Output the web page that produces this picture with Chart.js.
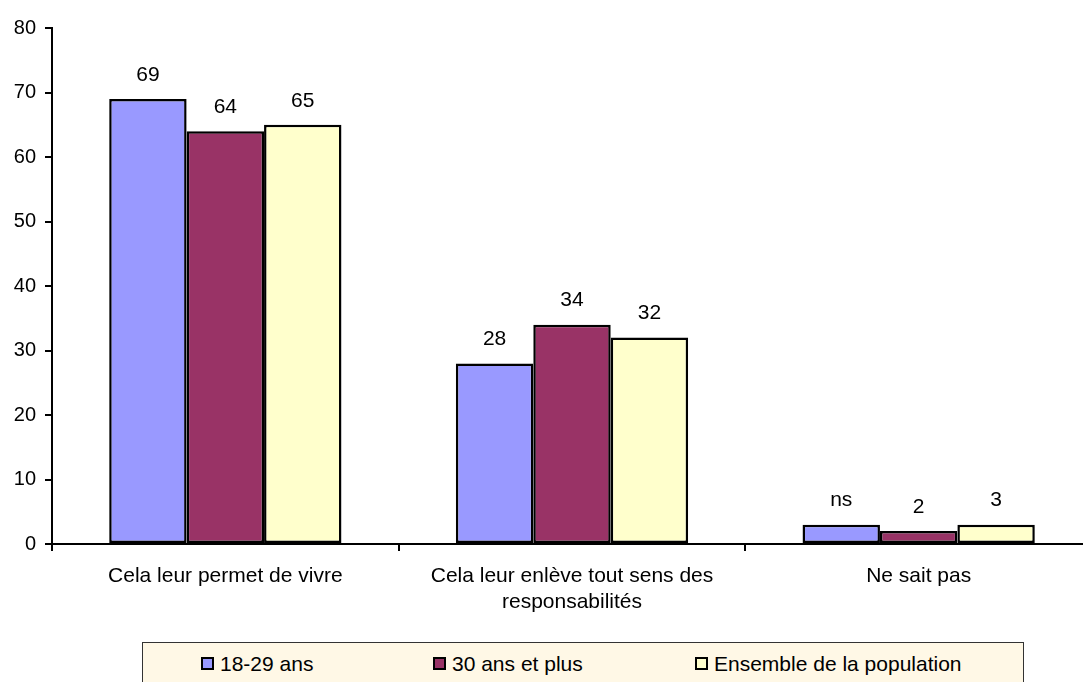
<!DOCTYPE html>
<html>
<head>
<meta charset="utf-8">
<script src="https://cdn.jsdelivr.net/npm/chart.js@4"></script>
<style>
html,body{margin:0;padding:0;background:#fff;overflow:hidden;}
#wrap{position:relative;width:1092px;height:682px;}
#legend{position:absolute;left:142px;top:642px;width:880px;height:48px;border:1px solid #333;background:#FFF8E6;font-family:"Liberation Sans",Arial,sans-serif;font-size:21px;color:#000;}
#legend span.item{position:absolute;top:9px;white-space:nowrap;}
#legend i{display:inline-block;width:9px;height:9px;border:2px solid #000;margin-right:6px;vertical-align:1px;}
</style>
</head>
<body>
<div id="wrap">
<canvas id="chart" width="1092" height="682"></canvas>
<div id="legend"></div>
</div>
<script>
const categories=[
"Cela leur permet de vivre",
["Cela leur enlève tout sens des","responsabilités"],
"Ne sait pas"
];

const seriesNames=["18-29 ans","30 ans et plus","Ensemble de la population"];

const jeunes=[69,28,3];
const plus30=[64,34,2];
const ensemble=[65,32,3];

const jeunesLabels=["69","28","ns"];
const plus30Labels=["64","34","2"];
const ensembleLabels=["65","32","3"];

const colors=["#9999FF","#993366","#FFFFCC"];

const yTicks=[0,10,20,30,40,50,60,70,80];

const valueLabels=[jeunesLabels,plus30Labels,ensembleLabels];

const font='"Liberation Sans", Arial, sans-serif';

// etiquettes au-dessus des barres
const barLabels={
id:"barLabels",
afterDatasetsDraw(c){
const ctx=c.ctx;
ctx.save();
ctx.font="21px "+font;
ctx.fillStyle="#000";
ctx.textAlign="center";
ctx.textBaseline="middle";
c.data.datasets.forEach((ds,i)=>{
c.getDatasetMeta(i).data.forEach((bar,j)=>{
ctx.fillText(valueLabels[i][j],bar.x,bar.y-24);
});
});
ctx.restore();
}
};

new Chart(document.getElementById("chart"),{
type:"bar",
data:{
labels:categories,
datasets:[jeunes,plus30,ensemble].map((d,i)=>({
label:seriesNames[i],
data:d,
backgroundColor:colors[i],
borderColor:"#000",
borderWidth:2.5,
borderSkipped:false,
categoryPercentage:0.67,
barPercentage:1
}))
},
options:{
responsive:false,
animation:false,
layout:{padding:{top:28,right:0,left:0,bottom:0}},
plugins:{legend:{display:false},tooltip:{enabled:false}},
scales:{
x:{
offset:true,
grid:{display:true,offset:true,drawOnChartArea:false,drawTicks:true,tickLength:7,color:"#000",lineWidth:2},
border:{display:true,color:"#000",width:2},
ticks:{color:"#000",font:{family:font,size:21,lineHeight:1.25},padding:12,maxRotation:0,autoSkip:false},
afterFit(s){s.height=138;}
},
y:{
min:0,max:80,
afterBuildTicks(s){s.ticks=yTicks.map(v=>({value:v}));},
grid:{display:true,drawOnChartArea:false,drawTicks:true,tickLength:7,color:"#000",lineWidth:2},
border:{display:true,color:"#000",width:2},
ticks:{color:"#000",font:{family:font,size:20},padding:9},
afterFit(s){s.width=52;}
}
}
},
plugins:[barLabels]
});

// légende
const legendPos=[58,290,552];
const legend=document.getElementById("legend");
seriesNames.forEach((n,i)=>{
const s=document.createElement("span");
s.className="item";
s.style.left=legendPos[i]+"px";
s.innerHTML='<i style="background:'+colors[i]+'"></i>'+n;
legend.appendChild(s);
});
</script>
</body>
</html>
